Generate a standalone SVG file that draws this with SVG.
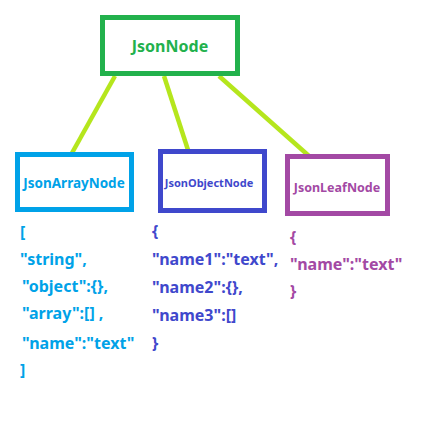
<svg xmlns="http://www.w3.org/2000/svg" width="426" height="426" viewBox="0 0 426 426">
<style>
  text { font-family: "Noto Sans", "Liberation Sans", sans-serif; font-weight: bold; }
  .box { fill: #ffffff; }
  .lbl { text-anchor: middle; dominant-baseline: central; }
  .body { font-size: 16px; }
  .edge { stroke: #B5E61D; stroke-width: 4.5; stroke-linecap: butt; fill: none; }
</style>
<rect width="426" height="426" fill="#ffffff"/>
<g id="connectors">
  <line class="edge" x1="115" y1="76" x2="72" y2="153"/>
  <line class="edge" x1="164" y1="76" x2="188" y2="150"/>
  <line class="edge" x1="219" y1="76" x2="309" y2="156"/>
</g>
<g id="JsonNode">
  <rect class="box" x="102.5" y="17.5" width="135" height="56" stroke="#22B14C" stroke-width="5"/>
  <text class="lbl" x="170" y="46" font-size="16" fill="#22B14C">JsonNode</text>
</g>
<g id="JsonArrayNode">
  <rect class="box" x="17.5" y="154.5" width="114" height="55" stroke="#00A2E8" stroke-width="5"/>
  <text class="lbl" x="74" y="183" font-size="13.5" fill="#00A2E8">JsonArrayNode</text>
  <g class="body" fill="#00A2E8">
    <text x="20" y="238">[</text>
    <text x="20" y="265">"string",</text>
    <text x="22" y="292">"object":{},</text>
    <text x="22" y="319">"array":[] ,</text>
    <text x="22" y="349">"name":"text"</text>
    <text x="20" y="376">]</text>
  </g>
</g>
<g id="JsonObjectNode">
  <rect class="box" x="160.5" y="151.5" width="104" height="59" stroke="#3F48CC" stroke-width="5"/>
  <text class="lbl" x="209" y="182" font-size="11" fill="#3F48CC">JsonObjectNode</text>
  <g class="body" fill="#3F48CC">
    <text x="152" y="237">{</text>
    <text x="152" y="265">"name1":"text",</text>
    <text x="152" y="293">"name2":{},</text>
    <text x="152" y="321">"name3":[]</text>
    <text x="152" y="349">}</text>
  </g>
</g>
<g id="JsonLeafNode">
  <rect class="box" x="287.5" y="156.5" width="100" height="57" stroke="#A349A4" stroke-width="5"/>
  <text class="lbl" x="337" y="187" font-size="12.5" fill="#A349A4">JsonLeafNode</text>
  <g class="body" fill="#A349A4">
    <text x="290" y="243">{</text>
    <text x="290" y="270">"name":"text"</text>
    <text x="290" y="297">}</text>
  </g>
</g>
</svg>
